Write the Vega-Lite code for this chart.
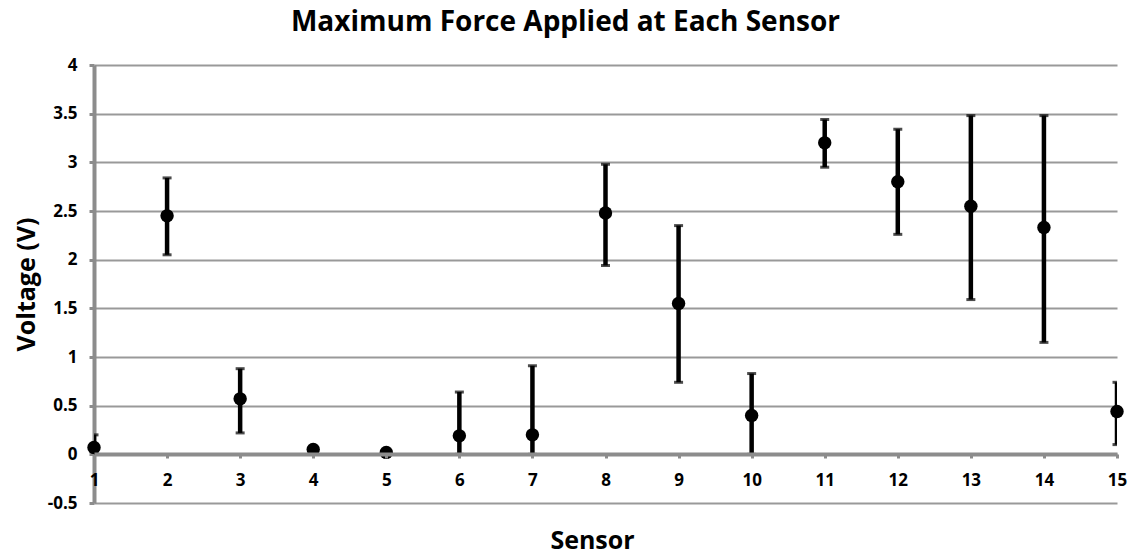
{
  "$schema": "https://vega.github.io/schema/vega-lite/v6.json",
  "autosize": "none",
  "width": 1023,
  "height": 438,
  "padding": {"left": 94, "top": 65, "right": 13, "bottom": 53},
  "background": "white",
  "title": {
    "text": "Maximum Force Applied at Each Sensor",
    "font": "Open Sans",
    "fontSize": 28,
    "fontWeight": "bold",
    "color": "#000000",
    "anchor": "middle",
    "frame": "group",
    "dx": -40,
    "offset": 19
  },
  "config": {
    "view": {"stroke": null},
    "axis": {
      "labelFont": "Open Sans",
      "labelFontWeight": "bold",
      "labelFontSize": 17,
      "labelColor": "#000000",
      "titleFont": "Open Sans",
      "titleFontWeight": "bold",
      "titleFontSize": 25,
      "titleColor": "#000000"
    }
  },
  "data": {
    "values": [
      {"sensor": 1, "voltage": 0.07, "lo": 0.0, "hi": 0.2},
      {"sensor": 2, "voltage": 2.45, "lo": 2.05, "hi": 2.84},
      {"sensor": 3, "voltage": 0.57, "lo": 0.22, "hi": 0.88},
      {"sensor": 4, "voltage": 0.05, "lo": null, "hi": null},
      {"sensor": 5, "voltage": 0.02, "lo": null, "hi": null},
      {"sensor": 6, "voltage": 0.19, "lo": 0.0, "hi": 0.64},
      {"sensor": 7, "voltage": 0.2, "lo": 0.0, "hi": 0.91},
      {"sensor": 8, "voltage": 2.48, "lo": 1.94, "hi": 2.98},
      {"sensor": 9, "voltage": 1.55, "lo": 0.74, "hi": 2.35},
      {"sensor": 10, "voltage": 0.4, "lo": 0.0, "hi": 0.83},
      {"sensor": 11, "voltage": 3.2, "lo": 2.95, "hi": 3.44},
      {"sensor": 12, "voltage": 2.8, "lo": 2.26, "hi": 3.34},
      {"sensor": 13, "voltage": 2.55, "lo": 1.59, "hi": 3.48},
      {"sensor": 14, "voltage": 2.33, "lo": 1.15, "hi": 3.48},
      {"sensor": 15, "voltage": 0.44, "lo": 0.1, "hi": 0.74}
    ]
  },
  "encoding": {
    "x": {
      "field": "sensor",
      "type": "quantitative",
      "scale": {"domain": [1, 15], "nice": false, "zero": false},
      "axis": {
        "title": "Sensor",
        "values": [1,2,3,4,5,6,7,8,9,10,11,12,13,14,15],
        "format": "d",
        "offset": -49,
        "domainColor": "#8c8c8c",
        "domainWidth": 4,
        "tickColor": "#8c8c8c",
        "tickWidth": 3,
        "tickSize": 4,
        "labelPadding": 14,
        "labelFlush": false,
        "labelOverlap": false,
        "grid": false,
        "titlePadding": 40,
        "titleX": 498,
        "zindex": 1
      }
    }
  },
  "layer": [
    {
      "mark": {"type": "rule", "color": "#000000", "strokeWidth": 4.5, "clip": true},
      "encoding": {
        "y": {
          "field": "lo",
          "type": "quantitative",
          "scale": {"domain": [-0.5, 4], "nice": false, "zero": false},
          "axis": {
            "title": "Voltage (V)",
            "values": [-0.5, 0, 0.5, 1, 1.5, 2, 2.5, 3, 3.5, 4],
            "labelExpr": "datum.value",
            "grid": true,
            "gridColor": "#999999",
            "gridWidth": 2,
            "domainColor": "#8c8c8c",
            "domainWidth": 4,
            "tickColor": "#8c8c8c",
            "tickWidth": 3,
            "tickSize": 5,
            "labelPadding": 12,
            "titlePadding": 8,
            "zindex": 0
          }
        },
        "y2": {"field": "hi"}
      }
    },
    {
      "mark": {"type": "tick", "orient": "horizontal", "color": "#000000", "size": 9, "thickness": 3, "clip": true},
      "encoding": {"y": {"field": "lo", "type": "quantitative"}}
    },
    {
      "mark": {"type": "tick", "orient": "horizontal", "color": "#000000", "size": 9, "thickness": 3, "clip": true},
      "encoding": {"y": {"field": "hi", "type": "quantitative"}}
    },
    {
      "mark": {"type": "point", "filled": true, "shape": "circle", "color": "#000000", "size": 180, "opacity": 1},
      "encoding": {"y": {"field": "voltage", "type": "quantitative"}}
    }
  ]
}
